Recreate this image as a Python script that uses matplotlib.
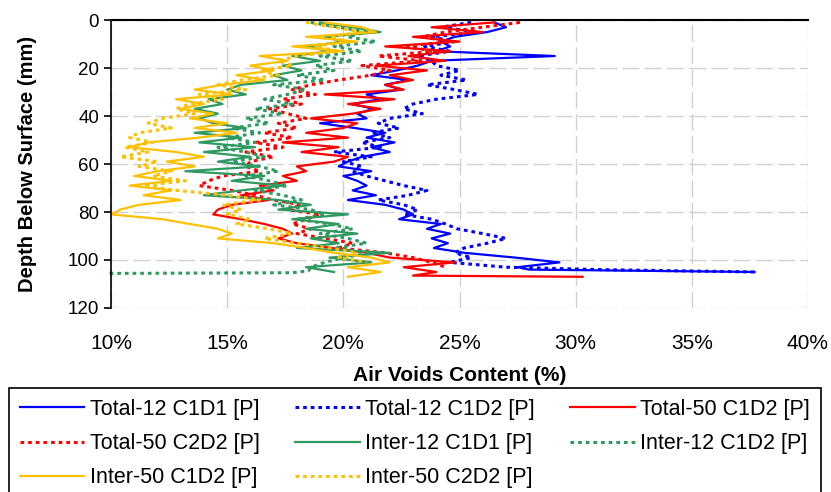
import matplotlib
matplotlib.use("Agg")
import matplotlib.pyplot as plt
from matplotlib.ticker import FuncFormatter

plt.rcParams["font.family"] = ["Liberation Sans", "DejaVu Sans"]

# depth below surface (mm) shared by the profiles
depth = [1, 3, 5, 7, 9, 11, 13, 15, 17, 19, 21, 23, 25, 27, 29, 31, 33, 35, 37, 39,
         41, 43, 45, 47, 49, 51, 53, 55, 57, 59, 61, 63, 65, 67, 69, 71, 73, 75, 77, 79,
         81, 83, 85, 87, 89, 91, 93, 95, 97, 99, 101, 103]

# air voids (%) per profile
total12_c1d1 = [26.5, 27.0, 26.2, 24.8, 24.2, 24.6, 24.0, 29.1, 23.8, 23.2, 22.3, 21.2, 22.8, 21.8,
                22.5, 21.0, 21.6, 20.4, 21.3, 20.6, 21.0, 19.0, 20.5, 21.8, 21.0, 22.2, 21.2, 22.0,
                20.8, 20.2, 19.8, 21.2, 20.0, 20.6, 21.0, 20.4, 21.4, 20.2, 21.8, 22.6, 23.0, 22.4,
                24.2, 23.6, 24.6, 23.8, 24.5, 23.9, 25.2, 27.4, 29.3, 27.5]
total12_c1d1_tail_d = [104, 105]
total12_c1d1_tail_x = [28.0, 37.7]

total12_c1d2 = [25.5, 24.2, 25.8, 23.8, 24.8, 23.5, 24.6, 23.2, 23.8, 24.0, 25.0, 24.2, 25.3, 23.6,
                24.8, 25.8, 24.0, 23.0, 22.6, 23.4, 22.0, 21.5, 22.4, 21.2, 22.0, 20.8, 21.6, 19.6,
                21.2, 20.0, 20.8, 20.4, 21.0, 21.8, 22.6, 23.6, 22.8, 21.5, 22.6, 23.2, 22.6, 23.8,
                24.4, 24.9, 26.0, 27.0, 26.2, 25.2, 24.8, 25.5, 24.6, 27.0]
total12_c1d2_tail_d = [104, 105]
total12_c1d2_tail_x = [31.0, 37.8]

total50_c1d2 = [26.5, 23.8, 26.0, 23.0, 25.0, 21.8, 24.6, 22.8, 24.4, 21.4, 23.6, 22.0, 23.0, 21.8,
                22.6, 19.2, 22.2, 20.2, 21.6, 20.4, 18.6, 20.6, 20.0, 18.4, 20.2, 17.4, 19.8, 18.2,
                20.2, 19.6, 18.0, 18.4, 17.4, 18.0, 16.4, 17.0, 15.6, 16.8, 15.2, 14.6, 14.4, 15.6,
                16.6, 17.4, 17.8, 17.2, 18.0, 19.5, 21.0, 22.0, 24.8, 22.6]
total50_c1d2_tail_d = [105, 106.5, 107]
total50_c1d2_tail_x = [24.0, 23.0, 30.3]

total50_c2d2 = [27.6, 26.0, 24.4, 23.4, 24.6, 22.6, 24.0, 21.5, 23.4, 20.8, 22.0, 21.2, 19.8, 18.6,
                17.8, 18.8, 17.4, 18.2, 16.8, 17.6, 18.4, 17.2, 18.0, 16.6, 17.8, 16.2, 17.4, 15.8,
                17.0, 16.0, 15.8, 16.4, 14.8, 14.2, 13.8, 15.2, 16.2, 17.0, 18.2, 17.6, 19.0, 18.4,
                17.8, 18.6, 18.0, 19.2, 20.4, 19.8, 21.8, 23.0, 23.8, 24.4]

inter12_c1d1 = [19.0, 20.4, 21.6, 19.2, 20.0, 18.4, 19.4, 17.8, 19.0, 17.4, 18.2, 17.0, 17.6, 15.6,
                15.0, 15.8, 14.2, 14.8, 13.6, 14.6, 13.8, 14.4, 15.8, 13.6, 15.6, 13.8, 16.2, 14.0,
                16.0, 14.6, 16.4, 13.2, 16.6, 15.2, 17.4, 15.6, 14.0, 17.2, 18.6, 17.2, 20.2, 17.8,
                19.8, 18.4, 20.6, 18.6, 19.8, 18.0, 22.0, 19.4, 21.2, 18.4]
inter12_c1d1_tail_d = [105]
inter12_c1d1_tail_x = [19.6]

inter12_c1d2 = [18.6, 19.8, 21.0, 20.2, 21.4, 19.6, 20.8, 19.0, 20.4, 18.8, 19.6, 18.0, 19.2, 17.0,
                18.4, 17.6, 16.6, 17.8, 16.2, 17.4, 15.8, 16.8, 15.2, 16.4, 15.0, 16.2, 14.6, 15.8,
                16.6, 15.2, 16.4, 17.2, 15.8, 16.8, 17.6, 16.2, 17.4, 18.2, 17.0, 18.6, 19.2, 18.0,
                19.4, 20.4, 19.0, 20.2, 21.0, 19.6, 21.2, 20.0, 19.2, 18.6]
inter12_c1d2_tail_d = [104.5, 105.3, 105.6]
inter12_c1d2_tail_x = [18.5, 17.8, 9.8]

inter50_c1d2 = [19.2, 20.8, 21.4, 18.4, 20.6, 17.8, 20.0, 16.4, 17.6, 16.0, 17.0, 15.4, 16.6, 14.8,
                13.6, 15.2, 12.8, 14.0, 13.0, 14.4, 13.4, 15.0, 13.6, 15.4, 13.8, 11.6, 10.8, 12.8,
                14.0, 12.4, 13.6, 12.0, 11.0, 12.6, 10.8, 12.6, 11.4, 13.0, 11.2, 10.4, 10.0, 12.2,
                13.4, 14.6, 15.2, 14.6, 17.0, 18.4, 19.6, 21.2, 22.0, 20.2]
inter50_c1d2_tail_d = [105, 107]
inter50_c1d2_tail_x = [21.6, 20.2]

inter50_c2d2 = [18.4, 19.6, 20.8, 19.4, 20.2, 18.8, 19.8, 18.0, 17.2, 17.8, 16.4, 17.2, 15.6, 14.6,
                15.8, 13.8, 14.8, 13.4, 12.8, 13.6, 12.2, 11.6, 12.6, 11.2, 10.8, 11.8, 10.6, 11.6,
                10.4, 12.0, 11.2, 12.6, 11.8, 13.2, 11.4, 12.8, 15.0, 16.4, 14.8, 15.6, 15.0, 16.0,
                15.4, 16.8, 17.8, 16.6, 18.0, 19.4, 20.6, 19.8, 21.0]

labels = ["Total-12 C1D1 [P]", "Total-12 C1D2 [P]", "Total-50 C1D2 [P]",
          "Total-50 C2D2 [P]", "Inter-12 C1D1 [P]", "Inter-12 C1D2 [P]",
          "Inter-50 C1D2 [P]", "Inter-50 C2D2 [P]"]

series = [
    (total12_c1d1 + total12_c1d1_tail_x, depth + total12_c1d1_tail_d),
    (total12_c1d2 + total12_c1d2_tail_x, depth + total12_c1d2_tail_d),
    (total50_c1d2 + total50_c1d2_tail_x, depth + total50_c1d2_tail_d),
    (total50_c2d2, depth),
    (inter12_c1d1 + inter12_c1d1_tail_x, depth + inter12_c1d1_tail_d),
    (inter12_c1d2 + inter12_c1d2_tail_x, depth + inter12_c1d2_tail_d),
    (inter50_c1d2 + inter50_c1d2_tail_x, depth + inter50_c1d2_tail_d),
    (inter50_c2d2, depth[:len(inter50_c2d2)]),
]
colors = ["#0000FF", "#0000FF", "#FF0000", "#FF0000",
          "#2E9960", "#2E9960", "#FFC000", "#FFC000"]
dotted = [False, True, False, True, False, True, False, True]

fig = plt.figure(figsize=(8.31, 4.92), dpi=100)
ax = fig.add_axes([0.1336, 0.374, 0.8387, 0.5853])

handles = []
for (x, d), lab, c, dt in zip(series, labels, colors, dotted):
    if dt:
        h, = ax.plot(x, d, color=c, lw=2.2, linestyle=(0, (1.2, 1.3)), label=lab, clip_on=False)
    else:
        h, = ax.plot(x, d, color=c, lw=1.6, label=lab)
    handles.append(h)

ax.set_xlim(10, 40)
ax.set_ylim(120, 0)
ax.set_xticks([10, 15, 20, 25, 30, 35, 40])
ax.set_yticks([0, 20, 40, 60, 80, 100, 120])
ax.xaxis.set_major_formatter(FuncFormatter(lambda v, p: f"{v:.0f}%"))
ax.grid(True, color="#D0D0D0", lw=1, linestyle=(0, (12, 4)))
ax.set_axisbelow(True)

for s in ["right", "bottom"]:
    ax.spines[s].set_visible(False)
ax.spines["top"].set_linewidth(1.5)
ax.spines["left"].set_linewidth(1.2)
ax.tick_params(axis="x", length=0, labelsize=15, pad=19)
ax.tick_params(axis="y", length=5, width=1.2, direction="out", labelsize=13.5)

ax.set_xlabel("Air Voids Content (%)", fontsize=15, fontweight="bold", labelpad=9)
ax.set_ylabel("Depth Below Surface (mm)", fontsize=14.5, fontweight="bold", labelpad=22)

# legend fills column by column, so reorder to read row by row like the original
order = [0, 3, 6, 1, 4, 7, 2, 5]
leg = ax.legend([handles[i] for i in order], [labels[i] for i in order],
                loc="upper left", bbox_to_anchor=(9 / 831, 1 - 388 / 492),
                bbox_transform=fig.transFigure, ncol=3, fontsize=15.5,
                frameon=True, fancybox=False, edgecolor="black", framealpha=1,
                handlelength=3.0, handletextpad=0.25, labelspacing=0.62,
                borderpad=0.5, columnspacing=1.65, borderaxespad=0)
leg.get_frame().set_linewidth(1.2)

fig.savefig("out.png", dpi=100)
